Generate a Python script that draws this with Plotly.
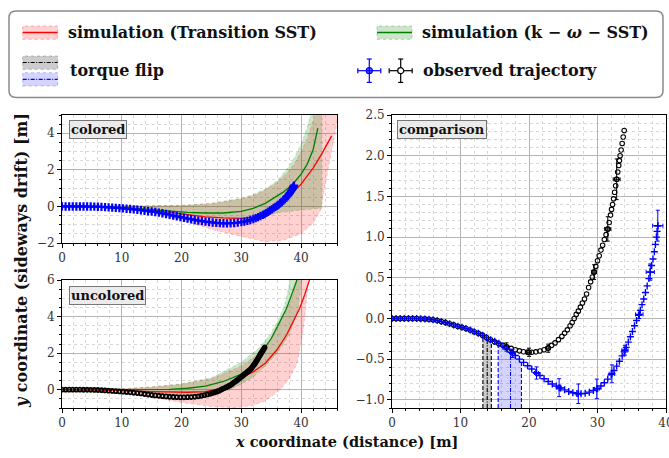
import plotly.graph_objects as go

W, H = 669, 458
def px(x): return x / W
def py(y): return 1 - y / H

# ---------------- observed trajectories (comparison) ----------------
obs_black_x = [0, 0.6, 1.2, 1.8, 2.4, 3.0, 3.6, 4.2, 4.8, 5.4, 6.0, 6.6, 7.2, 7.8, 8.4, 9.0, 9.6, 10.2, 10.8, 11.4, 12.0,
               12.6, 13.2, 13.8, 14.4, 15.0, 15.6, 16.2, 16.8, 17.4, 18.0, 18.6, 19.2, 19.8, 20.4, 21.0, 21.6, 22.2,
               22.8, 23.3, 23.8, 24.3, 24.8, 25.2, 25.6, 26.0, 26.3, 26.6, 26.9, 27.2, 27.5, 27.8, 28.1, 28.4, 28.7,
               29.0, 29.25, 29.5, 29.75, 30.0, 30.25, 30.5, 30.75, 31.0, 31.25, 31.5, 31.7, 31.9, 32.05, 32.2, 32.35,
               32.5, 32.65, 32.8, 32.95, 33.1, 33.2, 33.3, 33.45, 33.6, 33.75, 33.9]
obs_black_y = [0, 0, 0, 0, 0, 0, -0.001, -0.003, -0.005, -0.009, -0.015, -0.024, -0.037, -0.051, -0.064, -0.079, -0.095,
               -0.108, -0.124, -0.142, -0.163,
               -0.183, -0.205, -0.235, -0.262, -0.288, -0.31, -0.33, -0.35, -0.368, -0.385, -0.398, -0.408, -0.414,
               -0.415, -0.41, -0.40, -0.385, -0.36, -0.33, -0.30, -0.26, -0.22, -0.18, -0.14, -0.09, -0.05, 0.0, 0.05,
               0.09, 0.14, 0.19, 0.24, 0.30, 0.38, 0.45, 0.51, 0.57, 0.64, 0.71, 0.77, 0.84, 0.90, 0.97, 1.03, 1.10,
               1.18, 1.27, 1.34, 1.40, 1.47, 1.55, 1.63, 1.71, 1.80, 1.88, 1.94, 2.00, 2.07, 2.15, 2.23, 2.31]

obs_blue_x = [0, 0.6, 1.2, 1.8, 2.4, 3.0, 3.6, 4.2, 4.8, 5.4, 6.0, 6.6, 7.2, 7.8, 8.4, 9.0, 9.6, 10.2, 10.8, 11.4, 12.0,
              12.6, 13.2, 13.8, 14.4, 15.0, 15.6, 16.2, 16.8, 17.4, 18.0, 18.6, 19.2, 19.8, 20.4, 21.0, 21.6, 22.2,
              22.8, 23.4, 24.0, 24.6, 25.2, 25.8, 26.4, 27.0, 27.6, 28.2, 28.8, 29.4, 30.0, 30.5, 31.0, 31.5, 32.0,
              32.4, 32.8, 33.2, 33.6, 33.9, 34.2, 34.5, 34.8, 35.1, 35.4, 35.7, 36.0, 36.25, 36.5, 36.75, 37.0,
              37.25, 37.5, 37.7, 37.9, 38.1, 38.3, 38.45, 38.6, 38.7, 38.8]
obs_blue_y = [0, 0, 0, 0, 0, 0, -0.001, -0.003, -0.005, -0.009, -0.015, -0.024, -0.037, -0.051, -0.064, -0.079, -0.095,
              -0.108, -0.124, -0.142, -0.163,
              -0.183, -0.207, -0.235, -0.26, -0.28, -0.305, -0.34, -0.375, -0.415, -0.455, -0.50, -0.54, -0.58, -0.62,
              -0.665, -0.70, -0.74, -0.775, -0.805, -0.83, -0.855, -0.877, -0.897, -0.912, -0.922, -0.925, -0.92,
              -0.905, -0.885, -0.86, -0.83, -0.79, -0.745, -0.69, -0.64, -0.585, -0.525, -0.46, -0.41, -0.355, -0.29,
              -0.225, -0.16, -0.09, -0.025, 0.04, 0.10, 0.17, 0.24, 0.32, 0.40, 0.49, 0.57, 0.65, 0.73, 0.82, 0.91,
              1.00, 1.07, 1.14]

# error-bar samples
eb_black_x = [16.7, 20.0, 22.8, 29.5, 31.5, 32.8]
eb_black_y = [-0.35, -0.415, -0.365, 0.57, 1.10, 1.71]
eb_black_ey = [0.05, 0.05, 0.05, 0.09, 0.15, 0.25]
eb_black_ex = [0.3, 0.3, 0.3, 0.35, 0.45, 0.5]

eb_blue_x = [17.6, 21.1, 24.4, 27.2, 29.9, 32.1, 34.0, 36.1, 37.7, 38.8]
eb_blue_y = [-0.43, -0.67, -0.85, -0.925, -0.865, -0.68, -0.39, 0.05, 0.57, 1.14]
eb_blue_ey = [0.05, 0.075, 0.11, 0.12, 0.12, 0.11, 0.06, 0.05, 0.1, 0.19]
eb_blue_ex = [0.3, 0.3, 0.3, 0.3, 0.35, 0.4, 0.45, 0.55, 0.6, 0.75]

# torque flip
flip_black_x = [13.27, 13.9, 14.5]
flip_black_y = [-0.215, -0.245, -0.27]
flip_blue_x = [15.5, 17.3, 18.9]
flip_blue_y = [-0.295, -0.41, -0.52]

# ---------------- simulations, colored ----------------
c_red_x = [0, 5, 10, 15, 18, 21, 24, 27, 30, 32, 34, 36, 38, 40, 42, 43.5, 45.1]
c_red_y = [0, -0.01, -0.06, -0.2, -0.33, -0.46, -0.57, -0.63, -0.65, -0.58, -0.35, 0.05, 0.55, 1.22, 2.1, 2.9, 3.86]
c_grn_x = [0, 5, 10, 15, 18, 21, 24, 27, 30, 32, 34, 36, 37, 38, 39, 40, 41, 42, 42.8]
c_grn_y = [0, -0.01, -0.05, -0.17, -0.27, -0.33, -0.36, -0.36, -0.27, -0.1, 0.17, 0.55, 0.78, 1.05, 1.38, 1.77, 2.3, 3.1, 4.28]

c_red_up_x = [0, 10, 15, 20, 25, 28, 30, 32, 34, 36, 38, 39, 40, 41, 42, 42.6]
c_red_up_y = [0, 0.02, 0.02, 0.04, 0.15, 0.28, 0.4, 0.6, 0.88, 1.3, 1.95, 2.4, 3.0, 3.7, 4.6, 5.3]
c_red_lo_x = [0, 10, 15, 20, 25, 30, 34, 37, 40, 42, 43.2, 43.7, 44.3, 45, 45.8, 46.5]
c_red_lo_y = [0, -0.08, -0.35, -0.75, -1.25, -1.64, -1.93, -1.85, -1.5, -0.9, -0.25, 0.6, 1.8, 3.0, 4.3, 5.5]
c_grn_up_x = [0, 10, 15, 20, 25, 30, 32, 34, 36, 38, 39, 40, 41, 41.8]
c_grn_up_y = [0, 0.02, 0.03, 0.06, 0.17, 0.45, 0.65, 0.95, 1.4, 2.2, 2.75, 3.4, 4.3, 5.3]
c_grn_lo_x = [0, 10, 15, 20, 25, 30, 33, 36, 40, 43.5, 43.5]
c_grn_lo_y = [0, -0.07, -0.25, -0.45, -0.62, -0.72, -0.6, -0.35, -0.2, -0.1, 5.3]

# ---------------- simulations, uncolored ----------------
u_red_x = [0, 5, 10, 15, 18, 21, 24, 27, 30, 32, 34, 36, 37.6, 39, 39.8, 40.6, 41.4]
u_red_y = [0, -0.01, -0.05, -0.1, -0.13, -0.14, -0.1, 0.1, 0.65, 0.98, 1.45, 2.2, 3.02, 3.9, 4.48, 5.2, 6.0]
u_grn_x = [0, 5, 10, 15, 18, 21, 24, 27, 30, 32, 34, 35, 36.5, 37.5, 38.2, 39.3]
u_grn_y = [0, 0, 0, 0, 0.02, 0.08, 0.2, 0.45, 0.85, 1.4, 2.3, 2.8, 3.75, 4.4, 5.0, 6.0]

u_red_up_x = [0, 10, 15, 20, 25, 30, 33, 35, 37, 38.5, 39.5]
u_red_up_y = [0, 0.05, 0.15, 0.3, 0.6, 1.3, 2.0, 2.8, 3.9, 5.0, 6.3]
u_red_lo_x = [0, 10, 15, 20, 25, 29, 32, 34, 35, 36.5, 38, 39.3, 40.4, 41.2, 41.5]
u_red_lo_y = [0, -0.1, -0.4, -0.7, -0.92, -0.98, -0.85, -0.6, -0.35, 0.0, 0.6, 1.4, 3.4, 5.9, 6.5]
u_grn_up_x = [0, 10, 15, 20, 25, 30, 33, 35, 36.5, 37.5, 38.3]
u_grn_up_y = [0, 0.05, 0.15, 0.32, 0.65, 1.5, 2.3, 3.1, 4.0, 4.9, 6.3]
u_grn_lo_x = [0, 10, 15, 20, 25, 28, 30, 32, 34, 36, 38, 39.5, 40.2]
u_grn_lo_y = [0, -0.05, -0.2, -0.3, -0.25, 0.0, 0.3, 0.7, 1.3, 2.0, 3.0, 4.4, 6.3]

# axis ranges / ticks
left_xrange = [0, 46]
top_yrange = [-2, 5]
bot_yrange = [-1, 6]
cmp_xrange = [0, 40]
cmp_yrange = [-1.1, 2.5]

RED_FILL = "rgba(255,0,0,0.18)"
GRN_FILL = "rgba(0,128,0,0.2)"
FONT = "DejaVu Serif"
DASHDOT = "4px,1.5px,1px,1.5px"

fig = go.Figure()

def band(xu, yu, xl, yl, fill, edge, xa, ya):
    fig.add_trace(go.Scatter(x=list(xu) + list(xl)[::-1], y=list(yu) + list(yl)[::-1], fill="toself",
                             fillcolor=fill, mode="lines", line=dict(color=edge, width=0.7, dash="dot"),
                             xaxis=xa, yaxis=ya, showlegend=False, hoverinfo="skip"))

def line(x, y, color, xa, ya):
    fig.add_trace(go.Scatter(x=x, y=y, mode="lines", line=dict(color=color, width=1.3),
                             xaxis=xa, yaxis=ya, showlegend=False))

# colored panel
band(c_red_up_x, c_red_up_y, c_red_lo_x, c_red_lo_y, RED_FILL, "rgba(255,0,0,0.3)", "x", "y")
band(c_grn_up_x, c_grn_up_y, c_grn_lo_x, c_grn_lo_y, GRN_FILL, "rgba(0,128,0,0.3)", "x", "y")
line(c_red_x, c_red_y, "red", "x", "y")
line(c_grn_x, c_grn_y, "green", "x", "y")
fig.add_trace(go.Scatter(x=obs_blue_x, y=obs_blue_y, mode="markers", xaxis="x", yaxis="y", showlegend=False,
                         marker=dict(symbol="cross-thin", size=6, color="blue", line=dict(color="blue", width=2.2))))

# uncolored panel
band(u_red_up_x, u_red_up_y, u_red_lo_x, u_red_lo_y, RED_FILL, "rgba(255,0,0,0.3)", "x2", "y2")
band(u_grn_up_x, u_grn_up_y, u_grn_lo_x, u_grn_lo_y, GRN_FILL, "rgba(0,128,0,0.3)", "x2", "y2")
line(u_red_x, u_red_y, "red", "x2", "y2")
line(u_grn_x, u_grn_y, "green", "x2", "y2")
fig.add_trace(go.Scatter(x=obs_black_x, y=obs_black_y, mode="markers", xaxis="x2", yaxis="y2", showlegend=False,
                         marker=dict(symbol="circle-open", size=4, color="black", line=dict(color="black", width=1.8))))

# comparison panel: torque flip
ybot = cmp_yrange[0]
for fx, fy, fill, col in [(flip_black_x, flip_black_y, "rgba(0,0,0,0.2)", "black"),
                          (flip_blue_x, flip_blue_y, "rgba(0,0,255,0.17)", "blue")]:
    fig.add_trace(go.Scatter(x=fx + [fx[-1], fx[0]], y=fy + [ybot, ybot], fill="toself", fillcolor=fill,
                             mode="lines", line=dict(width=0), xaxis="x3", yaxis="y3", showlegend=False))
    for i, (xx, yy) in enumerate(zip(fx, fy)):
        fig.add_trace(go.Scatter(x=[xx, xx], y=[ybot, yy], mode="lines", xaxis="x3", yaxis="y3", showlegend=False,
                                 line=dict(color=col, width=1.1, dash=DASHDOT if i == 1 else "4px,2px")))

fig.add_trace(go.Scatter(x=obs_black_x, y=obs_black_y, mode="markers", xaxis="x3", yaxis="y3", showlegend=False,
                         marker=dict(symbol="circle-open", size=4.5, color="black", line=dict(color="black", width=1.1))))
fig.add_trace(go.Scatter(x=eb_black_x, y=eb_black_y, mode="markers", xaxis="x3", yaxis="y3", showlegend=False,
                         marker=dict(symbol="circle-open", size=4.5, color="black", line=dict(color="black", width=1.1)),
                         error_y=dict(type="data", array=eb_black_ey, color="black", thickness=1, width=2),
                         error_x=dict(type="data", array=eb_black_ex, color="black", thickness=1, width=2)))
fig.add_trace(go.Scatter(x=obs_blue_x, y=obs_blue_y, mode="markers", xaxis="x3", yaxis="y3", showlegend=False,
                         marker=dict(symbol="cross-thin", size=5, color="blue", line=dict(color="blue", width=1.4))))
fig.add_trace(go.Scatter(x=eb_blue_x, y=eb_blue_y, mode="markers", xaxis="x3", yaxis="y3", showlegend=False,
                         marker=dict(symbol="cross-thin", size=5, color="blue", line=dict(color="blue", width=1.4)),
                         error_y=dict(type="data", array=eb_blue_ey, color="blue", thickness=1, width=2),
                         error_x=dict(type="data", array=eb_blue_ex, color="blue", thickness=1, width=2)))

def ax(domain, rng, dtick, minor, anchor, fmt=None):
    d = dict(domain=domain, range=rng, dtick=dtick, tick0=0, anchor=anchor, showline=True, linecolor="black",
             linewidth=1, mirror=True, ticks="outside", ticklen=4, tickcolor="black", showgrid=True,
             gridcolor="#b5b5b5", gridwidth=1, zeroline=False, ticklabeloverflow="allow", automargin=False,
             tickfont=dict(family=FONT, size=12, color="#333"),
             minor=dict(dtick=minor, tick0=0, ticks="outside", ticklen=2, tickcolor="black", showgrid=True,
                        gridcolor="#d8d8d8", griddash="dot", gridwidth=1))
    if fmt:
        d["tickformat"] = fmt
    return d

L0, L1 = px(62), px(337)
fig.update_layout(
    width=W, height=H, margin=dict(l=0, r=0, t=0, b=0, pad=0, autoexpand=False),
    paper_bgcolor="white", plot_bgcolor="white", showlegend=False,
    xaxis=ax([L0, L1], left_xrange, 10, 2, "y"),
    yaxis=ax([py(243), py(115)], top_yrange, 2, 0.5, "x"),
    xaxis2=ax([L0, L1], left_xrange, 10, 2, "y2"),
    yaxis2=ax([py(408), py(280)], bot_yrange, 2, 0.5, "x2"),
    xaxis3=ax([px(392), px(666)], cmp_xrange, 10, 2, "y3"),
    yaxis3=ax([py(408), py(115)], cmp_yrange, 0.5, 0.1, "x3", ".1f"),
)

shapes = []
ann = []

def rrect(x0, y0, x1, y1, r):
    pts = [("M", x0 + r, y0), ("L", x1 - r, y0), ("Q", x1, y0, x1, y0 + r), ("L", x1, y1 - r),
           ("Q", x1, y1, x1 - r, y1), ("L", x0 + r, y1), ("Q", x0, y1, x0, y1 - r), ("L", x0, y0 + r),
           ("Q", x0, y0, x0 + r, y0)]
    s = ""
    for p in pts:
        c = p[0]
        coords = p[1:]
        s += c + " " + " ".join(f"{px(coords[i]):.5f},{py(coords[i+1]):.5f}" for i in range(0, len(coords), 2)) + " "
    return s + "Z"

# legend frame
shapes.append(dict(type="path", xref="paper", yref="paper", path=rrect(9, 11, 663, 97.5, 7),
                   line=dict(color="#8a8a8a", width=1.5), fillcolor="white"))

def rect(x0, y0, x1, y1, fill, edge):
    shapes.append(dict(type="rect", xref="paper", yref="paper", x0=px(x0), x1=px(x1), y0=py(y1), y1=py(y0),
                       fillcolor=fill, line=dict(color=edge, width=0.8, dash="dot")))

def hline(x0, x1, y, color, width=1.3, dash="solid"):
    shapes.append(dict(type="line", xref="paper", yref="paper", x0=px(x0), x1=px(x1), y0=py(y), y1=py(y),
                       line=dict(color=color, width=width, dash=dash)))

def vline(x, y0, y1, color, width=1.3):
    shapes.append(dict(type="line", xref="paper", yref="paper", x0=px(x), x1=px(x), y0=py(y0), y1=py(y1),
                       line=dict(color=color, width=width)))

rect(22.7, 26, 57.7, 39.3, RED_FILL, "rgba(255,0,0,0.35)")
hline(22.7, 57.7, 32.5, "red")
rect(377, 26, 412, 39.3, GRN_FILL, "rgba(0,128,0,0.35)")
hline(377, 412, 32.5, "green")
rect(22.7, 56, 57.7, 69.3, "rgba(0,0,0,0.2)", "rgba(0,0,0,0.3)")
hline(22.7, 57.7, 62.5, "black", 1.2, DASHDOT)
rect(22.7, 72.7, 57.7, 86, "rgba(0,0,255,0.17)", "rgba(0,0,255,0.3)")
hline(22.7, 57.7, 79.3, "blue", 1.2, DASHDOT)

# observed legend glyphs
for cx, col in [(369.3, "blue"), (400.7, "black")]:
    hline(cx - 11.5, cx + 11.5, 70.7, col, 1.2)
    vline(cx, 59, 82.4, col, 1.2)
    hline(cx - 2.5, cx + 2.5, 59, col, 1.2)
    hline(cx - 2.5, cx + 2.5, 82.4, col, 1.2)
    vline(cx - 11.5, 68.2, 73.2, col, 1.2)
    vline(cx + 11.5, 68.2, 73.2, col, 1.2)
    shapes.append(dict(type="circle", xref="paper", yref="paper", x0=px(cx - 3), x1=px(cx + 3),
                       y0=py(73.7), y1=py(67.7), line=dict(color=col, width=1.2),
                       fillcolor="white" if col == "black" else "rgba(0,0,255,0.6)"))

def text(x, y, s, size=16, xanchor="left", **kw):
    ann.append(dict(x=px(x), y=py(y), xref="paper", yref="paper", text=s, showarrow=False, xanchor=xanchor,
                    yanchor="middle", font=dict(family=FONT, size=size, color="#111"), **kw))

text(65.5, 32.5, "<b>simulation (Transition SST)</b>")
text(420, 32.5, "<b>simulation (k − <i>ω</i> − SST)</b>")
text(68, 71, "<b>torque flip</b>")
text(421, 70.7, "<b>observed trajectory</b>")

def tag(x, y, s):
    ann.append(dict(x=px(x), y=py(y), xref="paper", yref="paper", text="<b>" + s + "</b>", showarrow=False,
                    xanchor="left", yanchor="top", font=dict(family=FONT, size=13, color="#111"),
                    bgcolor="#ebebeb", bordercolor="#777", borderwidth=1, borderpad=1))

tag(69, 120.5, "colored")
tag(69, 285.5, "uncolored")
tag(397, 119.5, "comparison")

# axis titles
ann.append(dict(x=px(346), y=py(441), xref="paper", yref="paper", showarrow=False, xanchor="center",
                yanchor="middle", text="<b><i>x</i> coordinate (distance) [m]</b>",
                font=dict(family=FONT, size=14.5, color="#111")))
ann.append(dict(x=px(21), y=py(261), xref="paper", yref="paper", showarrow=False, xanchor="center",
                yanchor="middle", textangle=-90, text="<b><i>y</i> coordinate (sideways drift) [m]</b>",
                font=dict(family=FONT, size=16, color="#111")))

fig.update_layout(shapes=shapes, annotations=ann)
fig.write_html("out.html")
